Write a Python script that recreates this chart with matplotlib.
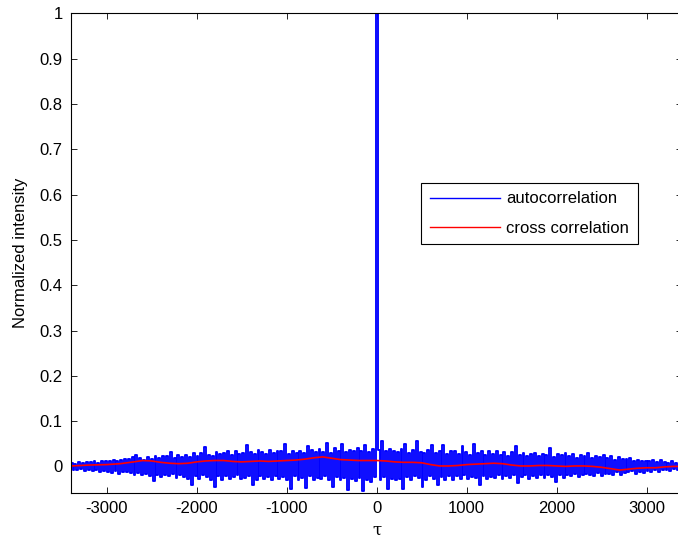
import numpy as np
import matplotlib
matplotlib.use("Agg")
import matplotlib.pyplot as plt

# ---- data ----
# autocorrelation samples, left half, centre spike, right half
auto_left = [
    0.008, -0.007, 0.006, -0.009, 0.009, -0.006, 0.007, -0.010, 0.010, -0.008,
    0.009, -0.011, 0.012, -0.009, 0.008, -0.012, 0.011, -0.010, 0.013, -0.012,
    0.012, -0.014, 0.015, -0.011, 0.011, -0.016, 0.014, -0.013, 0.016, -0.012,
    0.017, -0.015, 0.021, -0.018, 0.026, -0.014, 0.018, -0.020, 0.015, -0.017,
    0.020, -0.022, 0.017, -0.032, 0.023, -0.018, 0.019, -0.024, 0.024, -0.019,
    0.022, -0.021, 0.032, -0.017, 0.019, -0.025, 0.026, -0.020, 0.021, -0.023,
    0.025, -0.027, 0.021, -0.040, 0.029, -0.022, 0.024, -0.028, 0.030, -0.019,
    0.042, -0.024, 0.026, -0.031, 0.023, -0.045, 0.031, -0.022, 0.028, -0.029,
    0.030, -0.021, 0.035, -0.027, 0.026, -0.024, 0.033, -0.019, 0.027, -0.028,
    0.029, -0.026, 0.048, -0.022, 0.032, -0.042, 0.027, -0.029, 0.036, -0.021,
    0.031, -0.028, 0.027, -0.023, 0.036, -0.030, 0.030, -0.021, 0.033, -0.027,
    0.035, -0.024, 0.050, -0.031, 0.028, -0.050, 0.034, -0.022, 0.030, -0.029,
    0.033, -0.026, 0.029, -0.048, 0.046, -0.021, 0.037, -0.030, 0.031, -0.025,
    0.038, -0.027, 0.032, -0.022, 0.052, -0.031, 0.030, -0.045, 0.040, -0.024,
    0.034, -0.030, 0.050, -0.025, 0.031, -0.052, 0.037, -0.028, 0.033, -0.032,
    0.040, -0.026, 0.035, -0.055, 0.048, -0.029, 0.032, -0.035, 0.038, -0.024,
]
auto_peak = [1.0]
auto_right = [
    0.036, -0.030, 0.055, -0.024, 0.033, -0.050, 0.039, -0.027, 0.034, -0.031,
    0.031, -0.028, 0.038, -0.050, 0.050, -0.023, 0.030, -0.029, 0.036, -0.021,
    0.055, -0.026, 0.032, -0.045, 0.029, -0.030, 0.036, -0.022, 0.047, -0.028,
    0.030, -0.042, 0.035, -0.024, 0.048, -0.029, 0.027, -0.021, 0.033, -0.030,
    0.034, -0.022, 0.028, -0.027, 0.045, -0.020, 0.031, -0.028, 0.026, -0.024,
    0.050, -0.026, 0.029, -0.040, 0.033, -0.021, 0.026, -0.028, 0.034, -0.023,
    0.028, -0.025, 0.033, -0.019, 0.025, -0.027, 0.031, -0.022, 0.024, -0.026,
    0.032, -0.020, 0.044, -0.036, 0.025, -0.023, 0.029, -0.018, 0.022, -0.027,
    0.027, -0.021, 0.030, -0.025, 0.023, -0.018, 0.028, -0.026, 0.025, -0.020,
    0.040, -0.024, 0.021, -0.035, 0.028, -0.019, 0.025, -0.026, 0.030, -0.018,
    0.024, -0.022, 0.028, -0.017, 0.019, -0.024, 0.026, -0.020, 0.022, -0.016,
    0.030, -0.019, 0.018, -0.022, 0.024, -0.015, 0.020, -0.021, 0.025, -0.017,
    0.019, -0.016, 0.022, -0.020, 0.015, -0.013, 0.021, -0.018, 0.017, -0.014,
    0.016, -0.013, 0.018, -0.011, 0.013, -0.016, 0.015, -0.012, 0.012, -0.014,
    0.013, -0.010, 0.011, -0.013, 0.015, -0.009, 0.010, -0.012, 0.014, -0.008,
    0.010, -0.008, 0.008, -0.010, 0.011, -0.006, 0.007, -0.009, 0.009, -0.007,
]
lag_max = 3390

cross_tau = [-3390, -3200, -3000, -2850, -2700, -2600, -2500, -2400, -2300, -2200,
             -2100, -2000, -1900, -1800, -1700, -1600, -1500, -1400, -1300, -1200,
             -1100, -1000, -900, -800, -700, -600, -500, -400, -300, -200,
             -100, 0, 100, 200, 300, 400, 500, 600, 700, 800,
             900, 1000, 1100, 1200, 1300, 1400, 1500, 1600, 1700, 1800,
             1900, 2000, 2100, 2200, 2300, 2400, 2500, 2600, 2700, 2800,
             2900, 3000, 3100, 3200, 3300, 3390]
cross_val = [0.001, 0.003, 0.004, 0.006, 0.010, 0.013, 0.012, 0.009, 0.007, 0.006,
             0.007, 0.010, 0.012, 0.013, 0.013, 0.011, 0.010, 0.011, 0.012, 0.011,
             0.012, 0.013, 0.014, 0.016, 0.019, 0.021, 0.018, 0.015, 0.014, 0.013,
             0.013, 0.013, 0.012, 0.010, 0.009, 0.009, 0.008, 0.004, 0.001, 0.001,
             0.002, 0.004, 0.005, 0.006, 0.007, 0.006, 0.003, 0.001, 0.001, 0.002,
             0.002, 0.001, 0.000, 0.001, 0.001, 0.000, -0.002, -0.005, -0.008, -0.006,
             -0.004, -0.003, -0.003, -0.001, 0.000, 0.000]

x_ticks = [-3000, -2000, -1000, 0, 1000, 2000, 3000]
y_ticks = [0, 0.1, 0.2, 0.3, 0.4, 0.5, 0.6, 0.7, 0.8, 0.9, 1.0]
y_ticklabels = ["0", "0.1", "0.2", "0.3", "0.4", "0.5", "0.6", "0.7", "0.8", "0.9", "1"]

# ---- figure ----
plt.rcParams['font.family'] = ['Liberation Sans', 'DejaVu Sans']
fig = plt.figure(figsize=(6.78, 5.45), dpi=100)
ax = fig.add_axes([0.1047, 0.096, 0.9018, 0.8793])

auto = np.array(auto_left + auto_peak + auto_right)
lags = np.linspace(-lag_max, lag_max, len(auto))

ax.plot(lags, auto, color=(0, 0, 1), lw=1.35, label="autocorrelation",
        drawstyle='steps-mid')
ax.plot(cross_tau, cross_val, color=(1, 0, 0), lw=1.2, label="cross correlation")

ax.set_xlim(-3397, 3397)
ax.set_ylim(-0.058, 1.0)
ax.set_xticks(x_ticks)
ax.set_xticklabels([str(t) for t in x_ticks])
ax.set_yticks(y_ticks)
ax.set_yticklabels(y_ticklabels)

ax.tick_params(direction='in', length=4.5, width=0.6, top=True, right=True,
               labelsize=12, colors='black', pad=6)
for s in ax.spines.values():
    s.set_linewidth(0.8)

ax.set_xlabel("τ", fontsize=12, family=['DejaVu Serif'], labelpad=4)
ax.set_ylabel("Normalized intensity", fontsize=12, labelpad=8)

leg = ax.legend(loc='upper left', bbox_to_anchor=(0.573, 0.646), borderaxespad=0,
                fancybox=False, edgecolor='black', framealpha=1, fontsize=12,
                handlelength=4.2, handletextpad=0.4, labelspacing=0.85,
                borderpad=0.5)
leg.get_frame().set_linewidth(0.8)
for h in leg.get_lines():
    h.set_linewidth(1.0)

fig.savefig("out.png", dpi=100)
